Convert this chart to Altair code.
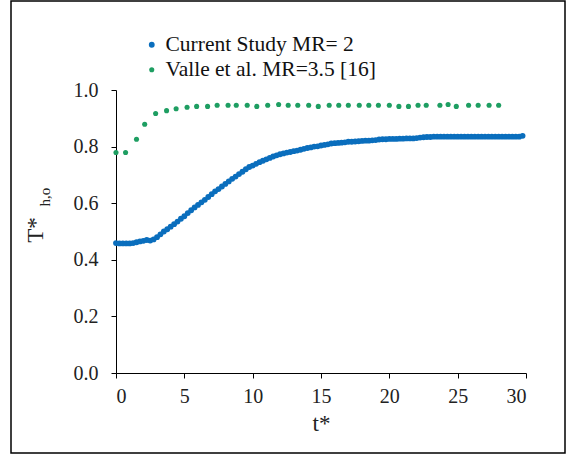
import altair as alt
import pandas as pd

# Green series: Valle et al. MR=3.5 [16]
valle_t = [0, 0.7, 1.5, 2.1, 2.9, 3.7, 4.4, 5.2, 5.9, 6.7, 7.4, 8.2, 8.8, 9.6, 10.3,
           11.1, 11.9, 12.6, 13.3, 14.1, 14.8, 15.6, 16.3, 17.0, 17.8, 18.5, 19.2,
           20.0, 20.7, 21.4, 22.1, 22.7, 23.7, 24.3, 24.9, 25.8, 26.5, 27.3, 28.0]
valle_T = [0.779, 0.779, 0.826, 0.879, 0.917, 0.927, 0.934, 0.939, 0.942, 0.942,
           0.946, 0.946, 0.946, 0.946, 0.942, 0.946, 0.949, 0.946, 0.946, 0.946,
           0.942, 0.946, 0.946, 0.946, 0.946, 0.946, 0.946, 0.946, 0.942, 0.942,
           0.946, 0.946, 0.946, 0.949, 0.942, 0.946, 0.946, 0.946, 0.946]

# Blue series: Current Study MR= 2 (t* step 0.25 from 0 to 29.75)
current_t = [i * 0.25 for i in range(120)]
current_T = [0.459, 0.458, 0.458, 0.458, 0.458, 0.459, 0.462, 0.465, 0.467, 0.470,
             0.468, 0.472, 0.480, 0.490, 0.500, 0.508, 0.517, 0.526, 0.535, 0.545,
             0.554, 0.565, 0.575, 0.585, 0.594, 0.603, 0.612, 0.622, 0.632, 0.642,
             0.650, 0.659, 0.668, 0.677, 0.686, 0.694, 0.703, 0.711, 0.720, 0.728,
             0.733, 0.739, 0.745, 0.750, 0.755, 0.760, 0.765, 0.769, 0.773, 0.776,
             0.779, 0.781, 0.784, 0.786, 0.789, 0.792, 0.795, 0.797, 0.800, 0.801,
             0.804, 0.806, 0.808, 0.811, 0.812, 0.813, 0.814, 0.815, 0.817, 0.817,
             0.818, 0.819, 0.820, 0.821, 0.821, 0.822, 0.823, 0.825, 0.826, 0.826,
             0.827, 0.827, 0.827, 0.828, 0.828, 0.829, 0.829, 0.829, 0.830, 0.832,
             0.833, 0.834, 0.834, 0.835, 0.835, 0.835, 0.835, 0.835, 0.835, 0.835,
             0.835, 0.835, 0.835, 0.835, 0.835, 0.835, 0.835, 0.835, 0.835, 0.835,
             0.835, 0.835, 0.835, 0.835, 0.835, 0.835, 0.835, 0.835, 0.835, 0.838]

series_names = ["Current Study MR= 2", "Valle et al. MR=3.5 [16]"]
series_colors = ["#0A6EBD", "#1E9E62"]

x_ticks = [0, 5, 10, 15, 20, 25, 30]
y_ticks = [0.0, 0.2, 0.4, 0.6, 0.8, 1.0]

df = pd.concat([
    pd.DataFrame({"t": current_t, "T": current_T, "s": series_names[0]}),
    pd.DataFrame({"t": valle_t, "T": valle_T, "s": series_names[1]}),
])

W, H = 410, 283
FONT = "Times New Roman, Liberation Serif, DejaVu Serif, serif"

x_enc = alt.X("t:Q", scale=alt.Scale(domain=[0, 30], nice=False),
              axis=alt.Axis(values=x_ticks, title="t*", format="d", grid=False,
                            titleFontSize=23, titleFontWeight="normal", titlePadding=6,
                            labelFontSize=20, tickSize=5, labelPadding=8,
                            domainColor="black", tickColor="black", labelColor="#222",
                            titleColor="#222", labelFont=FONT, titleFont=FONT))
y_enc = alt.Y("T:Q", scale=alt.Scale(domain=[0, 1], nice=False),
              axis=alt.Axis(values=y_ticks, title=None, format=".1f", grid=False,
                            labelFontSize=20, tickSize=5, labelPadding=13,
                            domainColor="black", tickColor="black", labelColor="#222",
                            labelFont=FONT))

points = alt.Chart(df).mark_circle(opacity=1).encode(
    x=x_enc,
    y=y_enc,
    size=alt.Size("s:N", scale=alt.Scale(domain=series_names, range=[34, 26]), legend=None),
    color=alt.Color("s:N", scale=alt.Scale(domain=series_names, range=series_colors),
                    legend=alt.Legend(title=None, orient="none", legendX=25, legendY=-56,
                                      labelFont=FONT, labelFontSize=21.5, labelColor="#111",
                                      labelLimit=0,
                                      symbolType="circle", symbolSize=14, symbolStrokeWidth=0,
                                      labelOffset=3, rowPadding=2)),
)

label_df = pd.DataFrame({"a": [0]})
ytitle = alt.Chart(label_df).mark_text(font=FONT, fontSize=23, angle=270, color="#222",
                                       align="center", baseline="middle").encode(
    x=alt.value(-80), y=alt.value(140), text=alt.value("T*"))
ysub = alt.Chart(label_df).mark_text(font=FONT, fontSize=15, angle=270, color="#222",
                                     align="center", baseline="middle").encode(
    x=alt.value(-71), y=alt.value(107), text=alt.value("h,o"))

frame = alt.Chart(label_df).mark_rect(fill=None, stroke="black", strokeWidth=1.5,
                                      clip=False).encode(
    x=alt.value(-105), x2=alt.value(449), y=alt.value(-89), y2=alt.value(363))

chart = alt.layer(frame, points, ytitle, ysub).properties(
    width=W, height=H,
    autosize=alt.AutoSizeParams(type="none"),
    padding={"left": 116, "top": 90, "right": 40, "bottom": 82},
    background="white",
).configure_view(stroke=None)

chart.save("out.html", embed_options={"renderer": "svg", "actions": False})
